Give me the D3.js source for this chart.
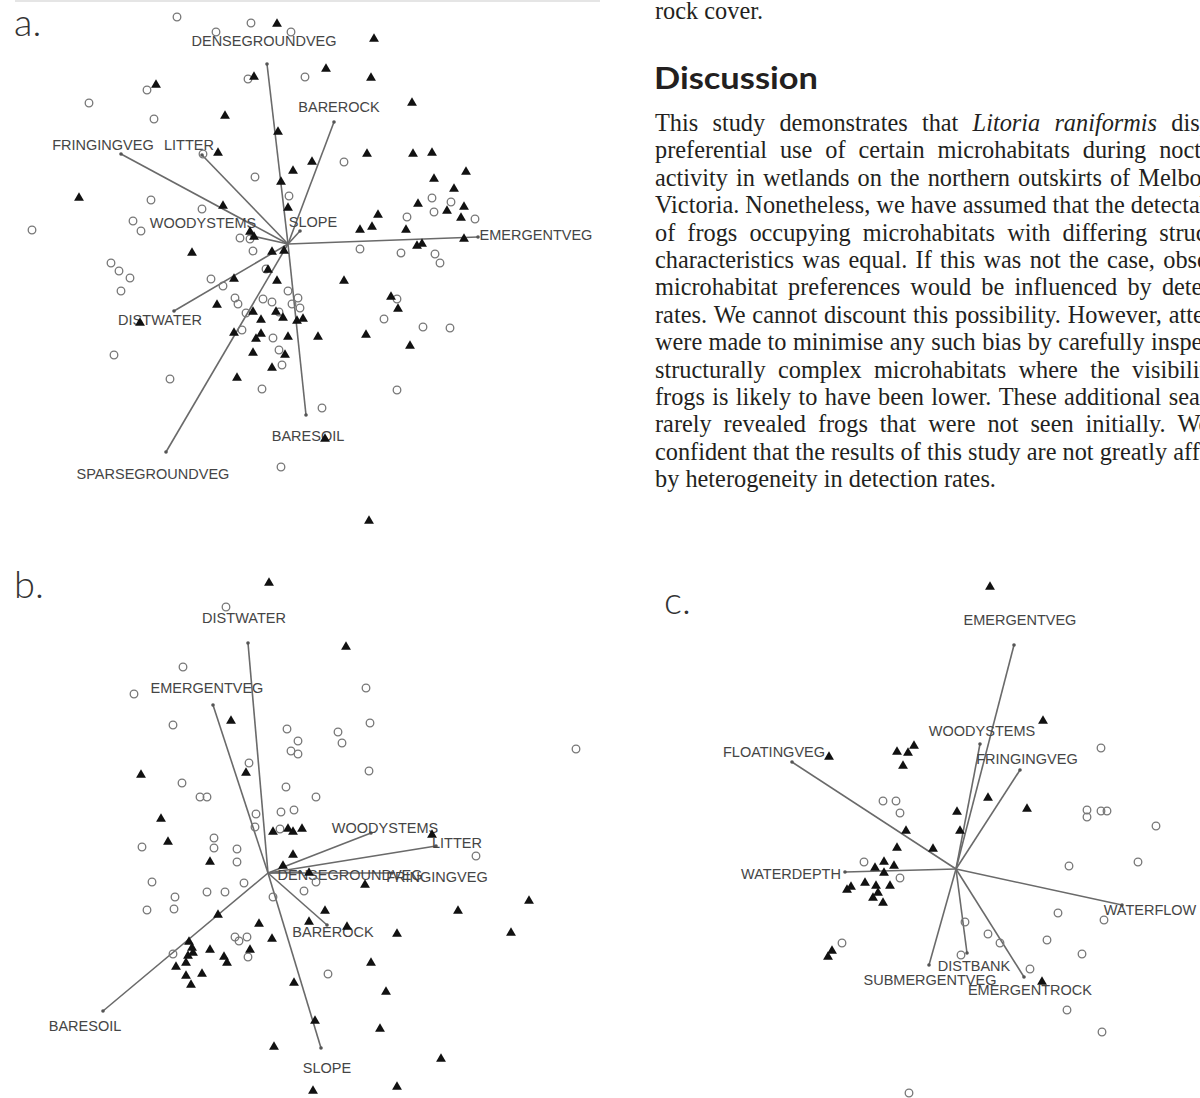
<!DOCTYPE html>
<html>
<head>
<meta charset="utf-8">
<script src="https://cdn.jsdelivr.net/npm/d3@7"></script>
<style>
  body { margin: 0; background: #fff; }
  svg { display: block; }
</style>
</head>
<body>
<svg id="page" width="1200" height="1098"></svg>
<script>
// ---- Panel a: site scores (axis units) ----
const aCircles = [
  [-1.11,2.27],[-0.37,2.21],[-0.72,2.12],[0.03,2.12],[0.17,1.67],[-0.40,1.65],[-1.41,1.54],
  [-1.99,1.41],[-1.34,1.25],[-0.85,0.90],[0.56,0.82],[-0.33,0.67],[0.01,0.48],[-1.37,0.44],
  [-0.86,0.35],[-1.55,0.23],[-1.47,0.13],[-2.56,0.14],[1.44,0.46],[1.63,0.42],[1.46,0.32],
  [1.19,0.27],[1.87,0.25],[-0.48,0.06],[-0.38,0.05],[-0.35,-0.07],[0.72,-0.05],[1.13,-0.09],
  [1.47,-0.10],[1.52,-0.19],[-1.77,-0.19],[-1.69,-0.27],[-1.58,-0.34],[-1.67,-0.47],[-0.22,-0.25],
  [-0.77,-0.35],[-0.65,-0.42],[-0.53,-0.54],[-0.50,-0.60],[-0.25,-0.55],[-0.16,-0.58],[0.00,-0.47],
  [0.10,-0.54],[0.04,-0.60],[0.12,-0.64],[1.09,-0.55],[-0.42,-0.69],[-0.09,-0.68],[0.96,-0.75],
  [1.35,-0.83],[1.62,-0.84],[-0.46,-0.86],[-0.15,-0.94],[-1.74,-1.11],[-0.09,-1.06],[-0.06,-1.21],
  [-1.18,-1.35],[-0.26,-1.45],[1.09,-1.46],[0.34,-1.64],[-0.07,-2.23]
];
const aTriangles = [
  [-0.11,2.20],[0.86,2.05],[0.38,1.75],[0.83,1.66],[-0.34,1.67],[-1.32,1.59],[1.24,1.41],
  [-0.63,1.28],[-0.10,1.12],[-0.70,0.91],[0.79,0.90],[1.25,0.90],[1.44,0.91],[0.24,0.82],
  [0.05,0.73],[1.78,0.72],[1.46,0.65],[-0.07,0.62],[1.66,0.55],[-2.09,0.46],[-0.65,0.38],
  [0.00,0.36],[1.30,0.40],[1.59,0.33],[1.76,0.37],[0.90,0.29],[1.73,0.26],[0.72,0.14],
  [0.84,0.17],[1.18,0.14],[1.76,0.05],[1.29,-0.02],[1.34,0.00],[-0.34,0.07],[-0.38,0.12],
  [-0.16,-0.08],[-0.04,-0.07],[-0.96,-0.09],[-0.20,-0.26],[-0.54,-0.35],[-0.11,-0.37],[0.56,-0.37],
  [1.03,-0.53],[1.10,-0.65],[-0.71,-0.61],[-0.35,-0.68],[-0.12,-0.68],[-0.05,-0.74],[-0.27,-0.76],
  [0.09,-0.77],[0.15,-0.75],[-1.48,-0.79],[-0.54,-0.89],[-0.27,-0.90],[-0.32,-0.95],[0.00,-0.93],
  [0.30,-0.93],[0.78,-0.91],[1.22,-1.02],[-0.35,-1.09],[-0.03,-1.11],[-0.16,-1.24],[-0.51,-1.34],
  [0.37,-1.95],[0.81,-2.77]
];
// variable vectors: name, arrow end x, y, label x, y
const aVectors = [
  ["DENSEGROUNDVEG", -0.21, 1.80, -0.24, 2.03],
  ["BAREROCK", 0.46, 1.22, 0.51, 1.37],
  ["FRINGINGVEG", -1.67, 0.90, -1.85, 0.99],
  ["LITTER", -0.86, 0.89, -0.99, 0.99],
  ["WOODYSTEMS", -0.36, 0.08, -0.85, 0.21],
  ["SLOPE", 0.12, 0.13, 0.25, 0.22],
  ["EMERGENTVEG", 1.90, 0.07, 2.48, 0.09],
  ["DISTWATER", -1.14, -0.67, -1.28, -0.76],
  ["SPARSEGROUNDVEG", -1.22, -2.08, -1.35, -2.30],
  ["BARESOIL", 0.18, -1.71, 0.20, -1.92]
];

// ---- Panel b ----
const bCircles = [
  [-0.42,2.66],[-0.85,2.06],[-1.34,1.79],[0.98,1.85],[-0.95,1.48],[0.19,1.44],[0.70,1.41],
  [1.02,1.50],[0.30,1.32],[0.74,1.30],[0.23,1.22],[0.30,1.19],[3.08,1.24],[-0.19,1.10],
  [1.01,1.02],[-0.86,0.90],[-0.68,0.76],[-0.61,0.76],[0.18,0.86],[0.48,0.76],[-0.12,0.59],
  [0.13,0.61],[0.26,0.63],[-0.13,0.46],[0.12,0.44],[-0.54,0.35],[-0.54,0.25],[-1.26,0.26],
  [-0.31,0.24],[-0.31,0.11],[2.08,0.17],[-1.16,-0.09],[-0.93,-0.24],[-0.61,-0.19],[-0.43,-0.19],
  [-0.24,-0.10],[-1.21,-0.37],[-0.94,-0.36],[0.05,-0.24],[0.36,-0.18],[0.48,-0.09],[-0.33,-0.64],
  [-0.21,-0.64],[-0.29,-0.68],[-0.95,-0.81],[-0.20,-0.84],[0.60,-1.01]
];
const bTriangles = [
  [0.01,2.90],[0.78,2.26],[-0.37,1.52],[-1.27,0.98],[-0.22,1.00],[-1.07,0.54],[-1.00,0.31],
  [-0.58,0.11],[0.05,0.41],[0.20,0.44],[0.25,0.41],[0.34,0.44],[0.25,0.18],[0.15,0.07],
  [0.41,0.00],[0.97,-0.12],[0.57,-0.38],[-0.50,-0.42],[-0.09,-0.51],[0.41,-0.49],[0.79,-0.54],
  [1.90,-0.38],[2.61,-0.28],[1.29,-0.61],[2.43,-0.60],[0.04,-0.66],[-0.79,-0.69],[-0.76,-0.75],
  [-0.75,-0.80],[-0.80,-0.83],[-0.82,-0.90],[-0.92,-0.94],[-0.82,-1.03],[-0.77,-1.12],[-0.66,-1.01],
  [-0.58,-0.77],[-0.44,-0.84],[-0.41,-0.90],[-0.18,-0.77],[1.03,-0.90],[0.26,-1.10],[1.18,-1.19],
  [0.47,-1.48],[1.12,-1.56],[0.06,-1.74],[1.73,-1.86],[1.29,-2.14],[0.45,-2.18],[1.64,0.38]
];
const bVectors = [
  ["DISTWATER", -0.20, 2.30, -0.24, 2.55],
  ["EMERGENTVEG", -0.55, 1.68, -0.61, 1.85],
  ["WOODYSTEMS", 1.03, 0.40, 1.17, 0.45],
  ["LITTER", 1.68, 0.27, 1.89, 0.30],
  ["DENSEGROUNDVEG", 0.32, 0.01, 0.82, -0.02],
  ["FRINGINGVEG", 1.24, 0.00, 1.69, -0.04],
  ["BAREROCK", 0.59, -0.52, 0.65, -0.59],
  ["BARESOIL", -1.65, -1.38, -1.83, -1.53],
  ["SLOPE", 0.53, -1.75, 0.59, -1.95]
];

// ---- Panel c ----
const cCircles = [
  [1.45,1.21],[-0.73,0.68],[-0.60,0.68],[-0.56,0.56],[1.31,0.59],[1.31,0.52],[1.45,0.58],
  [1.51,0.58],[2.00,0.43],[-0.92,0.07],[-0.56,-0.09],[1.13,0.03],[1.82,0.07],[1.02,-0.44],
  [1.48,-0.51],[0.09,-0.53],[0.32,-0.65],[0.44,-0.74],[0.91,-0.71],[-1.14,-0.74],[1.26,-0.85],
  [0.05,-0.86],[0.74,-1.00],[1.11,-1.41],[1.46,-1.63],[-0.47,-2.24]
];
const cTriangles = [
  [0.34,2.82],[0.87,1.48],[-1.27,1.12],[-0.59,1.17],[-0.42,1.23],[-0.48,1.16],[-0.53,1.03],
  [0.32,0.71],[0.01,0.57],[0.71,0.60],[-0.50,0.38],[0.04,0.38],[-0.23,0.20],[-0.59,0.21],
  [-0.72,0.07],[-0.62,0.03],[-0.81,0.01],[-0.72,-0.04],[-0.91,-0.14],[-0.80,-0.17],[-0.66,-0.17],
  [-1.05,-0.18],[-1.09,-0.21],[-0.78,-0.24],[-0.83,-0.29],[-0.73,-0.34],[-1.24,-0.82],[-1.28,-0.88],
  [0.86,-1.13]
];
const cVectors = [
  ["EMERGENTVEG", 0.58, 2.24, 0.64, 2.49],
  ["WOODYSTEMS", 0.24, 1.25, 0.26, 1.38],
  ["FRINGINGVEG", 0.64, 0.99, 0.71, 1.10],
  ["FLOATINGVEG", -1.64, 1.07, -1.82, 1.17],
  ["WATERDEPTH", -1.11, -0.03, -1.65, -0.05],
  ["WATERFLOW", 1.66, -0.36, 1.94, -0.41],
  ["SUBMERGENTVEG", -0.27, -0.96, -0.26, -1.11],
  ["DISTBANK", 0.11, -0.84, 0.18, -0.97],
  ["EMERGENTROCK", 0.68, -1.08, 0.74, -1.21]
];

// ---- Text column ----
const topLine = "rock cover.";
const heading = "Discussion";
const bodyLines = [
  "This study demonstrates that *Litoria *raniformis displays",
  "preferential use of certain microhabitats during nocturnal",
  "activity in wetlands on the northern outskirts of Melbourne,",
  "Victoria. Nonetheless, we have assumed that the detectability",
  "of frogs occupying microhabitats with differing structural",
  "characteristics was equal. If this was not the case, observed",
  "microhabitat preferences would be influenced by detection",
  "rates. We cannot discount this possibility. However, attempts",
  "were made to minimise any such bias by carefully inspecting",
  "structurally complex microhabitats where the visibility of",
  "frogs is likely to have been lower. These additional searches",
  "rarely revealed frogs that were not seen initially. We are",
  "confident that the results of this study are not greatly affected",
  "by heterogeneity in detection rates."
];

const svg = d3.select("#page");
const labelFont = "'Liberation Sans', Arial, sans-serif";
const serifFont = "'Liberation Serif', 'DejaVu Serif', serif";

// thin rule at the very top of panel a
svg.append("line")
  .attr("x1", 15).attr("x2", 600).attr("y1", 1).attr("y2", 1)
  .attr("stroke", "#dcdcdc").attr("stroke-width", 1.5);

function drawPanel(tag, ox, oy, circles, triangles, vectors, lx, ly) {
  const unit = 100;
  const x = d3.scaleLinear().domain([-1, 1]).range([ox - unit, ox + unit]);
  const y = d3.scaleLinear().domain([-1, 1]).range([oy + unit, oy - unit]);
  const g = svg.append("g");

  // panel letter
  svg.append("text")
    .attr("x", lx).attr("y", ly)
    .attr("font-family", "Lato, 'Open Sans', sans-serif")
    .attr("font-weight", 300)
    .attr("font-size", 38)
    .attr("fill", "#333")
    .text(tag);

  // arrows
  g.selectAll(".vec")
    .data(vectors)
    .enter().append("line")
    .attr("x1", x(0)).attr("y1", y(0))
    .attr("x2", d => x(d[1])).attr("y2", d => y(d[2]))
    .attr("stroke", "#6a6a6a")
    .attr("stroke-width", 1.6);

  g.selectAll(".tip")
    .data(vectors)
    .enter().append("circle")
    .attr("cx", d => x(d[1])).attr("cy", d => y(d[2]))
    .attr("r", 1.8)
    .attr("fill", "#555");

  g.selectAll(".lab")
    .data(vectors)
    .enter().append("text")
    .attr("x", d => x(d[3])).attr("y", d => y(d[4]))
    .attr("dy", "0.36em")
    .attr("text-anchor", "middle")
    .attr("font-family", labelFont)
    .attr("font-size", 14.5)
    .attr("fill", "#454545")
    .text(d => d[0]);

  // open circles
  g.selectAll(".site-o")
    .data(circles)
    .enter().append("circle")
    .attr("cx", d => x(d[0])).attr("cy", d => y(d[1]))
    .attr("r", 3.8)
    .attr("fill", "none")
    .attr("stroke", "#777")
    .attr("stroke-width", 1.3);

  // filled triangles
  const tri = d3.symbol().type(d3.symbolTriangle).size(42);
  g.selectAll(".site-t")
    .data(triangles)
    .enter().append("path")
    .attr("d", tri)
    .attr("transform", d => "translate(" + x(d[0]) + "," + y(d[1]) + ")")
    .attr("fill", "#111");
}

drawPanel("a.", 288, 244, aCircles, aTriangles, aVectors, 14, 36);
drawPanel("b.", 268, 873, bCircles, bTriangles, bVectors, 14, 598);
drawPanel("c.", 956, 869, cCircles, cTriangles, cVectors, 664, 614);

// ---- Text column (justified) ----
const textX = 655;
const tg = svg.append("g").attr("font-family", serifFont).attr("fill", "#231f20");

// size the body font so the tight 4th line runs off the page at "detecta|bility"
const probe = tg.append("text").attr("font-size", 20)
  .text("Victoria. Nonetheless, we have assumed that the detecta");
const fs = 20 * (1200 - textX) / probe.node().getComputedTextLength();
probe.remove();

const probe2 = tg.append("text").attr("font-size", fs).text(bodyLines[3].replace(/\*/g, ""));
const colWidth = probe2.node().getComputedTextLength();
probe2.remove();

tg.append("text")
  .attr("x", textX).attr("y", 19)
  .attr("font-size", fs)
  .text(topLine);

svg.append("text")
  .attr("x", textX - 1).attr("y", 89)
  .attr("font-family", "Lato, 'Open Sans', sans-serif")
  .attr("font-weight", 700)
  .attr("font-size", 30)
  .attr("textLength", 164)
  .attr("lengthAdjust", "spacingAndGlyphs")
  .attr("fill", "#231f20")
  .text(heading);

bodyLines.forEach(function(line, i) {
  const yb = 131 + i * 27.4;
  const words = line.split(" ");
  const nodes = words.map(function(w) {
    return tg.append("text")
      .attr("y", yb)
      .attr("font-size", fs)
      .attr("font-style", w.startsWith("*") ? "italic" : null)
      .text(w.replace(/\*/g, ""));
  });
  const widths = nodes.map(n => n.node().getComputedTextLength());
  const total = d3.sum(widths);
  const last = i === bodyLines.length - 1;
  const gap = last ? fs * 0.25 : (colWidth - total) / (words.length - 1);
  let cx = textX;
  nodes.forEach(function(n, k) {
    n.attr("x", cx);
    cx += widths[k] + gap;
  });
});
</script>
</body>
</html>
